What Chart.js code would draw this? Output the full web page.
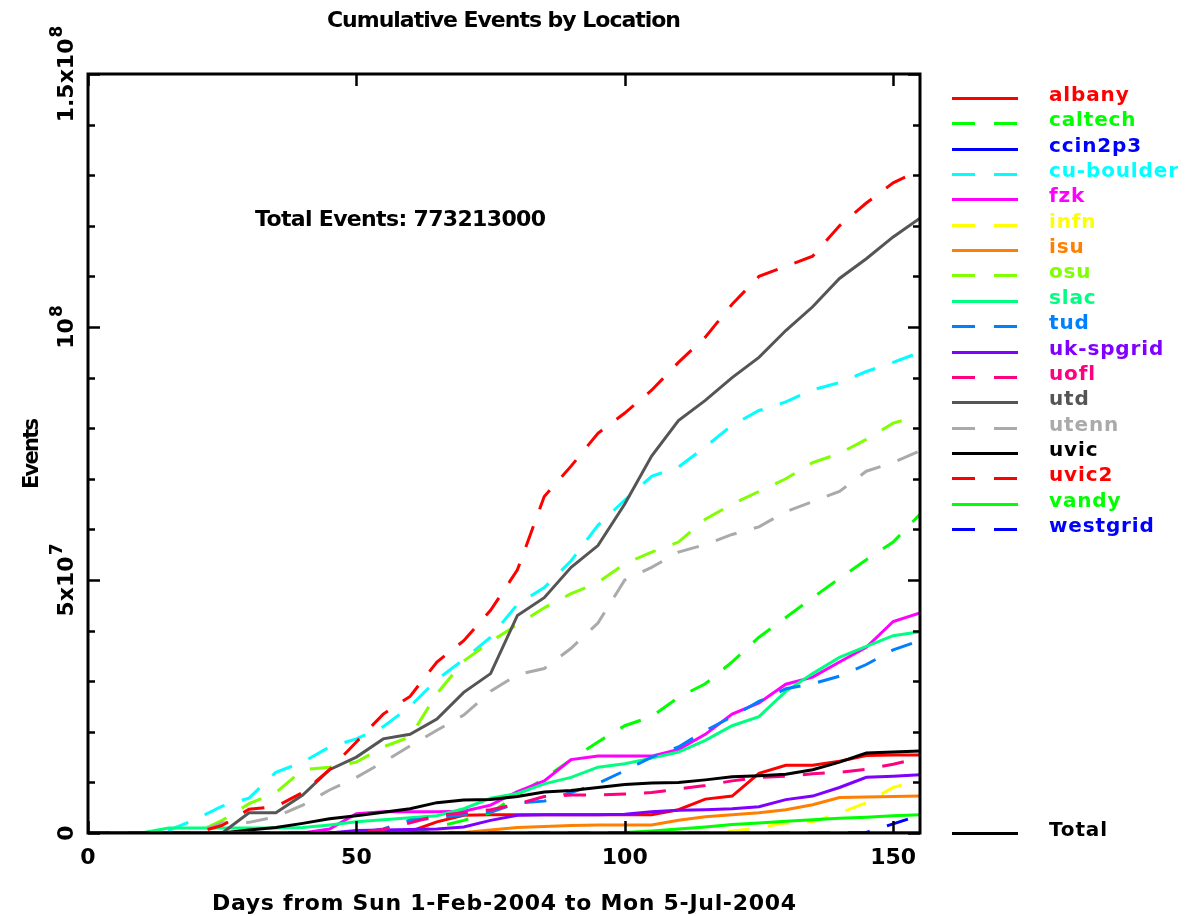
<!DOCTYPE html>
<html>
<head>
<meta charset="utf-8">
<title>Cumulative Events by Location</title>
<script src="https://cdn.jsdelivr.net/npm/chart.js@4.4.0/dist/chart.umd.min.js"></script>
<style>
  html, body { margin: 0; padding: 0; background: #fff; }
  #wrap { width: 1198px; height: 916px; }
</style>
</head>
<body>
<div id="wrap"><canvas id="chart" width="1198" height="916"></canvas></div>
<script>
// days since Sun 1-Feb-2004
const DAYS = [0, 5, 10, 15, 20, 25, 30, 35, 40, 45, 50, 55, 60, 65, 70, 75,
              80, 85, 90, 95, 100, 105, 110, 115, 120, 125, 130, 135, 140, 145, 150, 155];

const SITES = ['albany', 'caltech', 'ccin2p3', 'cu-boulder', 'fzk', 'infn', 'isu', 'osu', 'slac',
               'tud', 'uk-spgrid', 'uofl', 'utd', 'utenn', 'uvic', 'uvic2', 'vandy', 'westgrid'];
const COLORS = ['#ff0000', '#00ff00', '#0000ff', '#00ffff', '#ff00ff', '#ffff00', '#ff8000', '#80ff00', '#00ff80',
                '#0080ff', '#8000ff', '#ff0080', '#555555', '#aaaaaa', '#000000', '#ff0000', '#00ff00', '#0000ff'];
const DASHED = [false, true, false, true, false, true, false, true, false,
                true, false, true, false, true, false, true, false, true];

// cumulative events, millions
const albany    = [0, 0, 0, 0, 0, 0, 0, 0, 0, 0, 0, 0, 0.3, 2.2, 3.5, 3.6, 3.6, 3.6, 3.6, 3.6, 3.6, 3.6, 4.6, 6.7, 7.3, 11.8, 13.4, 13.4, 14.2, 15.3, 15.4, 15.4];
const caltech   = [0, 0, 0, 0, 0, 0, 0, 0, 0, 0, 0, 0, 0, 1.2, 2.5, 4, 7.5, 10.8, 14.5, 18, 21.2, 23, 26.8, 29.5, 33.8, 38.7, 42.6, 46.5, 50.3, 54, 57.5, 63];
const ccin2p3   = [0, 0, 0, 0, 0, 0, 0, 0, 0, 0, 0, 0, 0, 0, 0, 0, 0, 0, 0, 0, 0, 0, 0, 0, 0, 0, 0, 0, 0, 0, 0, 0];
const cuBoulder = [0, 0, 0, 0.5, 2.7, 5.3, 6.9, 12, 14, 17, 18.6, 21, 25, 30.3, 34.3, 38.7, 45.2, 48.5, 53.8, 60.8, 65.8, 70.5, 72.3, 76.3, 80.6, 83.5, 85.2, 87.6, 89, 91.2, 93, 95];
const fzk       = [0, 0, 0, 0, 0, 0, 0, 0, 0, 0.8, 3.8, 4.2, 4.2, 4.2, 4.3, 5.5, 8.2, 10.3, 14.5, 15.2, 15.2, 15.2, 16.5, 19.5, 23.5, 25.7, 29.4, 30.8, 33.8, 36.7, 41.8, 43.5];
const infn      = [0, 0, 0, 0, 0, 0, 0, 0, 0, 0, 0, 0, 0, 0, 0, 0, 0, 0, 0, 0, 0, 0, 0, 0, 0.4, 1, 2, 2.2, 3.9, 6, 9, 10.5];
const isu       = [0, 0, 0, 0, 0, 0, 0, 0, 0, 0, 0, 0, 0, 0, 0.1, 0.6, 1.1, 1.3, 1.5, 1.6, 1.6, 1.6, 2.5, 3.2, 3.6, 4, 4.6, 5.6, 7, 7.1, 7.2, 7.3];
const osu       = [0, 0, 0, 0, 0, 2.5, 5.8, 8, 12.5, 13, 14, 17, 19, 27.5, 34, 37.8, 41.2, 44.5, 47.3, 49.5, 53.2, 55.5, 57.5, 62, 65, 67.5, 70, 73.2, 75, 77.8, 81, 82.5];
const slac      = [0, 0, 0, 1, 1, 1, 1, 1, 1.1, 1.6, 2.2, 2.6, 3, 3.4, 4.8, 6.9, 7.8, 9.7, 11, 13, 13.7, 14.8, 16, 18.3, 21.2, 23, 28, 31.5, 34.7, 36.9, 39, 39.8];
const tud       = [0, 0, 0, 0, 0, 0, 0, 0, 0, 0, 0, 0.8, 2.5, 3, 3.6, 4.1, 5.9, 6.3, 8, 9.8, 12.3, 15, 17, 20.2, 23, 26, 28.5, 29.5, 31, 33.3, 36.2, 38];
const ukSpgrid  = [0, 0, 0, 0, 0, 0, 0, 0, 0, 0, 0.5, 0.6, 0.7, 0.8, 1.2, 2.5, 3.5, 3.6, 3.6, 3.6, 3.7, 4.2, 4.5, 4.6, 4.8, 5.2, 6.6, 7.3, 9, 11, 11.2, 11.5];
const uofl      = [0, 0, 0, 0, 0, 0, 0, 0, 0, 0, 0, 0.7, 2, 3.4, 4, 4.6, 5.7, 7.2, 7.5, 7.5, 7.7, 8, 8.7, 9.4, 10.3, 11, 11.2, 11.7, 12, 12.6, 13.6, 14.8];
const utd       = [0, 0, 0, 0, 0, 0, 4, 4, 7.5, 12.5, 15, 18.6, 19.5, 22.5, 27.8, 31.5, 43, 46.5, 52.5, 56.8, 65, 74.5, 81.5, 85.5, 90, 94, 99.3, 104, 109.6, 113.5, 117.8, 121.5];
const utenn     = [0, 0, 0, 0, 0, 2, 2.1, 3.2, 5.5, 8.5, 11, 14, 17.2, 20.3, 23.3, 28, 31.3, 32.5, 36.5, 41.5, 50, 52.5, 55.5, 57, 59, 60.5, 63.5, 65.5, 67.5, 71.5, 73.2, 75.5];
const uvic      = [0, 0, 0, 0, 0, 0, 0.6, 1.1, 1.9, 2.8, 3.4, 4.1, 4.8, 6, 6.5, 6.6, 7.2, 8.1, 8.4, 9, 9.6, 9.9, 10, 10.5, 11.1, 11.3, 11.6, 12.5, 14, 15.8, 16, 16.2];
const uvic2     = [0, 0, 0, 0, 0, 1.5, 4.7, 5.2, 8, 12.5, 18, 23.5, 27, 33.8, 38, 44, 52, 66.5, 72.5, 79, 83, 87.5, 93, 98, 104.5, 110, 112, 114, 120, 124.5, 128.5, 131];
const vandy     = [0, 0, 0, 0, 0, 0, 0, 0, 0, 0, 0, 0, 0, 0, 0, 0, 0, 0, 0, 0, 0.1, 0.4, 0.8, 1.2, 1.7, 2, 2.3, 2.6, 2.9, 3.1, 3.4, 3.6];
const westgrid  = [0, 0, 0, 0, 0, 0, 0, 0, 0, 0, 0, 0, 0, 0, 0, 0, 0, 0, 0, 0, 0, 0, 0, 0, 0, 0, 0, 0, 0, 0.1, 1.8, 3.5];

const SERIES = [albany, caltech, ccin2p3, cuBoulder, fzk, infn, isu, osu, slac,
                tud, ukSpgrid, uofl, utd, utenn, uvic, uvic2, vandy, westgrid];

const X_TICKS = [0, 50, 100, 150];
const Y_MINOR_STEP = 1e7;
const Y_TICKS = [0, 5e7, 1e8, 1.5e8];
const Y_TICK_LABELS = [['0', ''], ['5x10', '7'], ['10', '8'], ['1.5x10', '8']];

const TITLE = 'Cumulative Events by Location';
const X_TITLE = 'Days from Sun 1-Feb-2004 to Mon 5-Jul-2004';
const Y_TITLE = 'Events';
const TOTAL_NOTE = 'Total Events: 773213000';

const FONT = '"DejaVu Sans", sans-serif';
const DASH = [22, 18];

function setFont(ctx, size) {
  ctx.font = 'bold ' + size + 'px ' + FONT;
}

// draw text left-aligned at x, letter spacing stretched to a given width
function spaced(ctx, text, x, y, size, width) {
  setFont(ctx, size);
  ctx.letterSpacing = '0px';
  const w = ctx.measureText(text).width;
  const s = width && text.length > 1 ? (width - w) / (text.length - 1) : 0;
  ctx.letterSpacing = s + 'px';
  ctx.textAlign = 'left';
  ctx.fillText(text, x, y);
  ctx.letterSpacing = '0px';
}

function centered(ctx, text, cx, y, size, width) {
  spaced(ctx, text, cx - width / 2, y, size, width);
}

const decor = {
  id: 'decor',
  afterDatasetsDraw(chart) {
    const { ctx, chartArea: a, scales } = chart;
    const xs = scales.x, ys = scales.y;
    ctx.save();
    ctx.fillStyle = '#000';
    ctx.strokeStyle = '#000';
    ctx.textBaseline = 'alphabetic';

    // frame
    ctx.lineWidth = 3;
    ctx.setLineDash([]);
    ctx.strokeRect(a.left, a.top, a.right - a.left, a.bottom - a.top);

    // y ticks on both sides, x ticks top and bottom, all pointing in
    ctx.lineWidth = 2.5;
    ctx.beginPath();
    for (let i = 0; i * Y_MINOR_STEP <= ys.max + 1; i++) {
      const py = Math.round(ys.getPixelForValue(i * Y_MINOR_STEP)) + 0.5;
      const len = i % 5 === 0 ? 12 : 7;
      ctx.moveTo(a.left, py); ctx.lineTo(a.left + len, py);
      ctx.moveTo(a.right, py); ctx.lineTo(a.right - len, py);
    }
    X_TICKS.forEach(v => {
      const px = Math.round(xs.getPixelForValue(v)) + 0.5;
      ctx.moveTo(px, a.bottom); ctx.lineTo(px, a.bottom - 12);
      ctx.moveTo(px, a.top); ctx.lineTo(px, a.top + 12);
    });
    ctx.stroke();

    // x tick labels
    setFont(ctx, 22);
    ctx.textAlign = 'center';
    X_TICKS.forEach(v => ctx.fillText(String(v), xs.getPixelForValue(v), a.bottom + 31));

    // y tick labels, rotated, with exponent
    Y_TICKS.forEach((v, i) => {
      const [base, sup] = Y_TICK_LABELS[i];
      ctx.save();
      ctx.translate(a.left - 15, ys.getPixelForValue(v));
      ctx.rotate(-Math.PI / 2);
      ctx.textAlign = 'left';
      setFont(ctx, 22);
      const wb = ctx.measureText(base).width;
      setFont(ctx, 17);
      const ws = sup ? ctx.measureText(sup).width + 1 : 0;
      const x0 = -(wb + ws) / 2;
      setFont(ctx, 22);
      ctx.fillText(base, x0, 0);
      if (sup) {
        setFont(ctx, 17);
        ctx.fillText(sup, x0 + wb + 1, -11);
      }
      ctx.restore();
    });

    // titles
    const cx = (a.left + a.right) / 2;
    centered(ctx, TITLE, cx, 27, 22, 354);
    centered(ctx, X_TITLE, cx, 910, 22, 584);
    spaced(ctx, TOTAL_NOTE, 255, 226, 22, 291);

    ctx.save();
    ctx.translate(38, (a.top + a.bottom) / 2);
    ctx.rotate(-Math.PI / 2);
    centered(ctx, Y_TITLE, 0, 0, 21, 71);
    ctx.restore();

    // legend
    setFont(ctx, 20);
    const legS = (129 - ctx.measureText('cu-boulder').width) / 9;
    const rowTop = 98, rowStep = 25.35;
    ctx.lineWidth = 3;
    const row = (label, color, dashed, ly) => {
      ctx.strokeStyle = color;
      ctx.setLineDash(dashed ? [23, 19] : []);
      ctx.beginPath();
      ctx.moveTo(952, ly); ctx.lineTo(1018, ly);
      ctx.stroke();
      ctx.fillStyle = color;
      setFont(ctx, 20);
      ctx.letterSpacing = legS + 'px';
      ctx.textAlign = 'left';
      ctx.fillText(label, 1049, ly + 2);
      ctx.letterSpacing = '0px';
    };
    SITES.forEach((name, i) => row(name, COLORS[i], DASHED[i], Math.round(rowTop + i * rowStep) + 0.5));
    row('Total', '#000', false, 833.5);

    ctx.restore();
  }
};

const datasets = SITES.map((name, i) => ({
  label: name,
  data: DAYS.map((d, j) => ({ x: d, y: SERIES[i][j] * 1e6 })),
  borderColor: COLORS[i],
  backgroundColor: COLORS[i],
  borderWidth: 3,
  borderDash: DASHED[i] ? DASH : [],
  pointRadius: 0,
  tension: 0,
  fill: false,
  order: SITES.length - i
}));

new Chart(document.getElementById('chart').getContext('2d'), {
  type: 'line',
  data: { datasets },
  options: {
    responsive: false,
    animation: false,
    layout: { padding: { left: 88, top: 74, right: 278, bottom: 83 } },
    scales: {
      x: { type: 'linear', min: 0, max: 155, display: false },
      y: { type: 'linear', min: 0, max: 1.5e8, display: false }
    },
    plugins: {
      legend: { display: false },
      tooltip: { enabled: false },
      title: { display: false }
    }
  },
  plugins: [decor]
});
</script>
</body>
</html>
